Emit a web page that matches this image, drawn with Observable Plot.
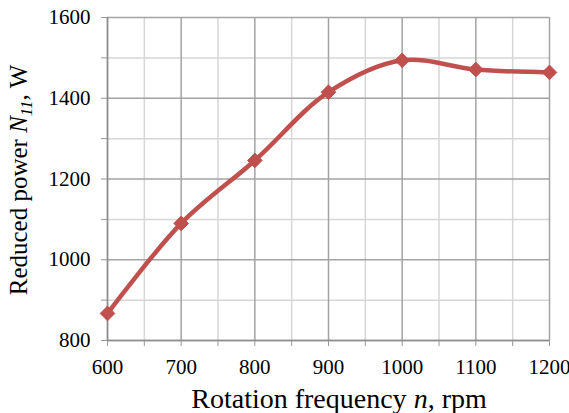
<!DOCTYPE html>
<html><head><meta charset="utf-8">
<script src="https://cdn.jsdelivr.net/npm/d3@7"></script>
<script src="https://cdn.jsdelivr.net/npm/@observablehq/plot@0.6"></script>
<style>body{margin:0;background:#fff}</style>
</head><body><div id="chart"></div>
<script>
const rpm = [600, 700, 800, 900, 1000, 1100, 1200];
const power = [867, 1090, 1246, 1415, 1494, 1471, 1464];
const xMajor = [600, 700, 800, 900, 1000, 1100, 1200];
const xMinor = [650, 750, 850, 950, 1050, 1150];
const yMajor = [800, 1000, 1200, 1400, 1600];
const yMinor = [900, 1100, 1300, 1500];
const data = rpm.map((n, i) => ({n, p: power[i]}));

const font = "Liberation Serif";
const chart = Plot.plot({
  width: 569, height: 413,
  marginLeft: 107, marginRight: 20, marginTop: 17, marginBottom: 73,
  style: {fontFamily: font, fontSize: "21px", color: "#000", background: "#fff"},
  x: {domain: [600, 1200]},
  y: {domain: [800, 1600]},
  marks: [
    Plot.ruleX(xMinor, {stroke: "#d6d6d6", strokeWidth: 1.5}),
    Plot.ruleY(yMinor, {stroke: "#d6d6d6", strokeWidth: 1.5}),
    Plot.ruleX(xMajor, {stroke: "#a3a3a3", strokeWidth: 1.5}),
    Plot.ruleY(yMajor, {stroke: "#a3a3a3", strokeWidth: 1.5}),
    Plot.axisX({ticks: [...xMajor, ...xMinor], tickSize: 6, tickFormat: () => "", stroke: "#999", label: null}),
    Plot.axisY({ticks: [...yMajor, ...yMinor], tickSize: 6, tickFormat: () => "", stroke: "#999", label: null}),
    Plot.axisX({ticks: xMajor, tickSize: 0, tickPadding: 19, tickFormat: d => String(d), label: null}),
    Plot.axisY({ticks: yMajor, tickSize: 0, tickPadding: 17, tickFormat: d => String(d), label: null}),
    Plot.ruleX([600], {stroke: "#8c8c8c", strokeWidth: 1.5}),
    Plot.ruleY([800], {stroke: "#8c8c8c", strokeWidth: 1.5}),
    Plot.line(data, {x: "n", y: "p", curve: "catmull-rom", stroke: "#C0504D", strokeWidth: 4.5}),
    Plot.dot(data, {x: "n", y: "p", symbol: "diamond2", r: 6.6, fill: "#C0504D", stroke: "#C0504D", strokeWidth: 1})
  ]
});
const svg = d3.select(chart);
svg.selectAll("text").style("font-family", "'Liberation Serif', serif").style("font-size", "21px");
const xl = svg.append("text").attr("x", 339).attr("y", 408).attr("text-anchor", "middle")
  .style("font-family", "'Liberation Serif', serif").style("font-size", "28px").attr("fill", "#000");
xl.append("tspan").text("Rotation frequency ");
xl.append("tspan").attr("font-style", "italic").text("n");
xl.append("tspan").text(", rpm");
const yl = svg.append("text").attr("transform", "translate(27,180) rotate(-90)").attr("text-anchor", "middle")
  .style("font-family", "'Liberation Serif', serif").style("font-size", "25px").attr("fill", "#000");
yl.append("tspan").text("Reduced power ");
yl.append("tspan").attr("font-style", "italic").text("N");
yl.append("tspan").attr("font-style", "italic").style("font-size", "17px").attr("dy", 5).text("11");
yl.append("tspan").attr("dy", -5).text(", W");
document.getElementById("chart").appendChild(chart);
</script>
</body></html>
